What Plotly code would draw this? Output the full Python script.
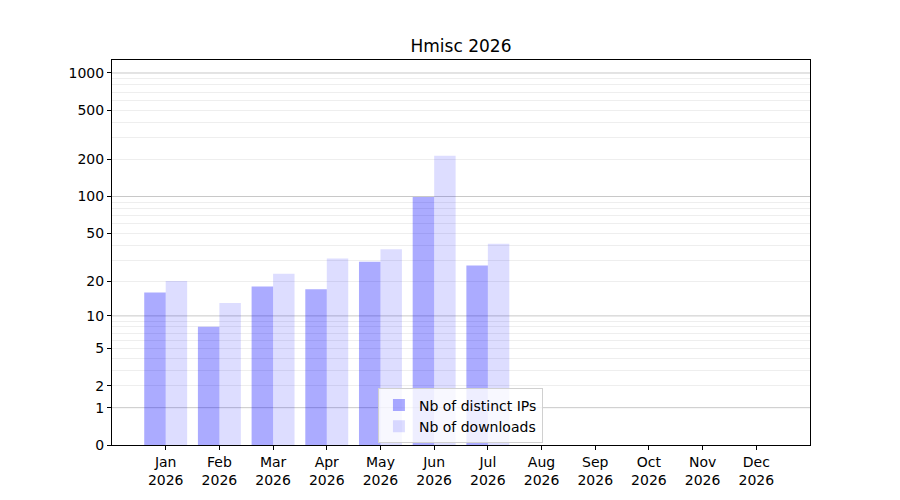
import numpy as np
import plotly.graph_objects as go

# data
months = ["Jan", "Feb", "Mar", "Apr", "May", "Jun", "Jul", "Aug", "Sep", "Oct", "Nov", "Dec"]
year = "2026"
distinct_ips = [16, 8, 18, 17, 29, 99, 27, None, None, None, None, None]
downloads = [20, 13, 23, 31, 37, 214, 41, None, None, None, None, None]
y_ticks = [0, 1, 2, 5, 10, 20, 50, 100, 200, 500, 1000]
y_major_grid = [1, 10, 100, 1000]
y_minor_grid = [2, 3, 4, 5, 6, 7, 8, 9, 20, 30, 40, 50, 60, 70, 80, 90,
                200, 300, 400, 500, 600, 700, 800, 900]


def fwd(v):
    """log10(1 + v), the y scale of the original chart"""
    return [None if x is None else float(np.log10(1 + x)) for x in v]


labels = [m + "<br>" + year for m in months]

fig = go.Figure()
fig.add_trace(go.Bar(x=labels, y=fwd(distinct_ips), customdata=distinct_ips,
                     name="Nb of distinct IPs", marker_color="rgba(0,0,255,0.33)",
                     marker_line_width=0, hovertemplate="%{customdata}"))
fig.add_trace(go.Bar(x=labels, y=fwd(downloads), customdata=downloads,
                     name="Nb of downloads", marker_color="rgba(0,0,255,0.134)",
                     marker_line_width=0, hovertemplate="%{customdata}"))

# the page body adds 8px around the figure, margins take that into account
fig.update_layout(
    width=900, height=500,
    margin=dict(l=104, r=98, t=52, b=63),
    paper_bgcolor="white", plot_bgcolor="white",
    font=dict(family="DejaVu Sans", size=14, color="black"),
    title=dict(text="Hmisc " + year, x=0.5, xref="paper", xanchor="center",
               y=1 - 38 / 500, yanchor="middle", font=dict(size=17)),
    barmode="group", bargap=0.2, bargroupgap=0,
    showlegend=True,
    legend=dict(x=0.381, y=0.004, xanchor="left", yanchor="bottom",
                bgcolor="rgba(255,255,255,0.8)", bordercolor="#d0d0d0",
                borderwidth=1, font=dict(size=14), tracegroupgap=0),
)
fig.update_xaxes(
    type="category", range=[-1, 12], showgrid=False,
    showline=True, linecolor="black", linewidth=1, mirror=True,
    ticks="outside", ticklen=4, tickcolor="black",
)
fig.update_yaxes(
    range=[0, float(np.log10(1 + 1273))],
    tickvals=fwd(y_ticks), ticktext=[str(t) for t in y_ticks],
    showgrid=False, zeroline=False,
    showline=True, linecolor="black", linewidth=1, mirror=True,
    ticks="outside", ticklen=4, tickcolor="black",
    minor=dict(tickvals=fwd(y_minor_grid), showgrid=True,
               gridcolor="#eeeeee", gridwidth=1, ticks=""),
)
# major grid as shapes over the minor ones
for g in fwd(y_major_grid):
    fig.add_hline(y=g, line_color="#c8c8c8", line_width=1, layer="below")

fig.write_html("out.html")
